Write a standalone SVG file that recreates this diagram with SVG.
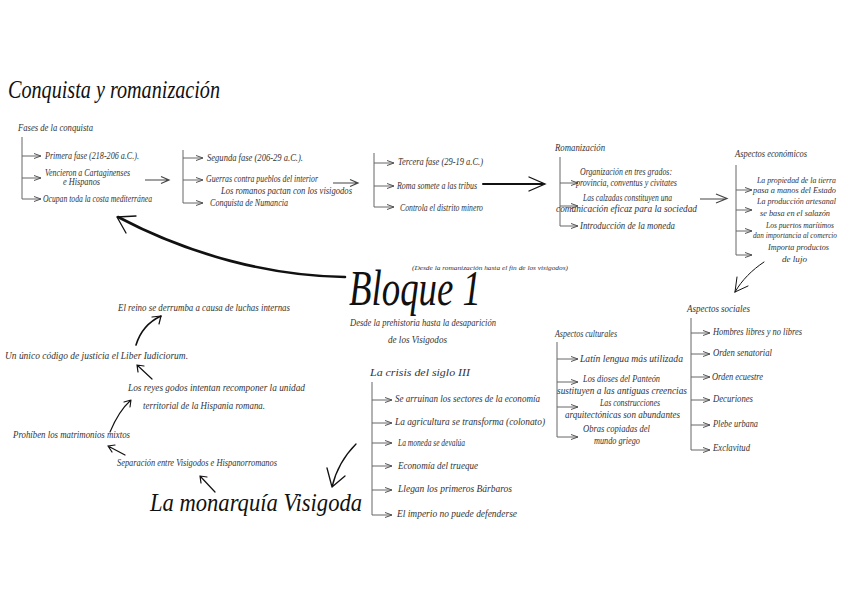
<svg xmlns="http://www.w3.org/2000/svg" width="848" height="599" viewBox="0 0 848 599">
<defs>
<marker id="ah" markerWidth="8" markerHeight="6" refX="7" refY="3" orient="auto" markerUnits="userSpaceOnUse">
<path d="M0,0.5 L7,3 L0,5.5" fill="none" stroke="#555" stroke-width="1"/>
</marker>
</defs>
<style>
text{font-family:"Liberation Serif","DejaVu Serif",serif;font-style:italic;fill:#333}
.s{font-size:9.5px}
.e{font-size:8.6px}
.xs{font-size:7px}
.m{font-size:11px}
.br{fill:none;stroke:#666;stroke-width:1}
.b{fill:none;stroke:#666;stroke-width:1;marker-end:url(#ah)}
.ar{fill:none;stroke:#444;stroke-width:1.2}
.k{fill:none;stroke:#111;stroke-linecap:round}
</style>
<rect width="848" height="599" fill="#fff"/>

<g id="connectors">
<path class="br" d="M22,137 V199"/>
<path class="b" d="M22,156 H41"/>
<path class="b" d="M22,178 H41"/>
<path class="b" d="M22,199 H41"/>
<path class="ar" d="M145,180 H168 M161,176.5 L169,180 L161,183.5"/>
<path class="br" d="M183,150 V203"/>
<path class="b" d="M183,158 H203"/>
<path class="b" d="M183,180 H203"/>
<path class="b" d="M183,203 H203"/>
<path class="ar" d="M333,183 H357 M350,179.5 L358,183 L350,186.5"/>
<path class="br" d="M374,153 V207"/>
<path class="b" d="M374,163 H394"/>
<path class="b" d="M374,186 H394"/>
<path class="b" d="M374,207 H394"/>
<path class="k" stroke-width="2" d="M483,184 H543"/>
<path class="k" stroke-width="1.3" d="M529,177 L545,184 L529,191"/>
<path class="br" d="M560,157 V226"/>
<path class="b" d="M560,183 H578"/>
<path class="b" d="M560,206 H578"/>
<path class="b" d="M560,226 H578"/>
<path class="ar" d="M700,199 H726 M716,194 L727,198.5 L716,203"/>
<path class="br" d="M736,165 V255"/>
<path class="b" d="M736,190 H752"/>
<path class="b" d="M736,210 H752"/>
<path class="b" d="M736,231 H752"/>
<path class="b" d="M736,255 H752"/>
<path class="k" stroke-width="1" d="M764,262 C752,270 742,280 735,292 M735,292 L737,277 M735,292 L748,286"/>
<path class="k" stroke-width="2.6" d="M345,277 C270,276 190,255 118,217"/>
<path class="k" stroke-width="1.3" d="M117,217 L136,216 M117,217 L126,233"/>
<path class="k" stroke-width="1.6" d="M136,345 C140,332 148,322 161,316"/>
<path class="k" stroke-width="1.2" d="M161,316 L152,317 M161,316 L159,324"/>
<path class="k" stroke-width="1.2" d="M152,379 L137,365 M137,365 L138,372 M137,365 L144,366"/>
<path class="k" stroke-width="1.1" d="M110,432 C115,420 122,408 131,400 M131,400 L124,402 M131,400 L130,407"/>
<path class="k" stroke-width="1.2" d="M125,455 L108,446 M108,446 L112,452 M108,446 L115,445"/>
<path class="k" stroke-width="1.2" d="M215,492 L200,476 M200,476 L201,483 M200,476 L207,477"/>
<path class="k" stroke-width="1.3" d="M356,444 C344,456 336,470 332,487 M332,487 L327,468 M332,487 L345,476"/>
<path class="br" d="M372,382 V515"/>
<path class="b" d="M372,400 H392"/>
<path class="b" d="M372,423 H392"/>
<path class="b" d="M372,443 H392"/>
<path class="b" d="M372,466 H392"/>
<path class="b" d="M372,490 H392"/>
<path class="b" d="M372,515 H392"/>
<path class="br" d="M557,342 V437"/>
<path class="b" d="M557,359 H578"/>
<path class="b" d="M557,382 H578"/>
<path class="b" d="M557,407 H578"/>
<path class="b" d="M557,437 H578"/>
<path class="br" d="M691,318 V450"/>
<path class="b" d="M691,333 H710"/>
<path class="b" d="M691,354 H710"/>
<path class="b" d="M691,377 H710"/>
<path class="b" d="M691,400 H710"/>
<path class="b" d="M691,425 H710"/>
<path class="b" d="M691,450 H710"/>
</g>

<g id="title"><text x="8" y="98" font-size="25" style="fill:#111" textLength="212" lengthAdjust="spacingAndGlyphs">Conquista y romanización</text></g>

<g id="fases">
<text class="s" x="18" y="131" textLength="75" lengthAdjust="spacingAndGlyphs">Fases de la conquista</text>
<text class="s" x="45" y="159" textLength="94" lengthAdjust="spacingAndGlyphs">Primera fase (218-206 a.C.).</text>
<text class="s" x="45" y="176" textLength="85" lengthAdjust="spacingAndGlyphs">Vencieron a Cartaginenses</text>
<text class="s" x="63" y="185" textLength="37" lengthAdjust="spacingAndGlyphs">e Hispanos</text>
<text class="s" x="43" y="202" textLength="109" lengthAdjust="spacingAndGlyphs">Ocupan toda la costa mediterránea</text>
</g>

<g id="segunda">
<text class="s" x="207" y="161" textLength="96" lengthAdjust="spacingAndGlyphs">Segunda fase (206-29 a.C.).</text>
<text class="s" x="206" y="182" textLength="112" lengthAdjust="spacingAndGlyphs">Guerras contra pueblos del interior</text>
<text class="m" x="221" y="194" textLength="131" lengthAdjust="spacingAndGlyphs">Los romanos pactan con los visigodos</text>
<text class="s" x="210" y="206" textLength="78" lengthAdjust="spacingAndGlyphs">Conquista de Numancia</text>
</g>

<g id="tercera">
<text class="s" x="398" y="165" textLength="85" lengthAdjust="spacingAndGlyphs">Tercera fase (29-19 a.C.)</text>
<text class="s" x="397" y="189" textLength="80" lengthAdjust="spacingAndGlyphs">Roma somete a las tribus</text>
<text class="s" x="400" y="211" textLength="83" lengthAdjust="spacingAndGlyphs">Controla el distrito minero</text>
</g>

<g id="romanizacion">
<text class="s" x="555" y="151" textLength="50" lengthAdjust="spacingAndGlyphs">Romanización</text>
<text class="s" x="580" y="175" textLength="92" lengthAdjust="spacingAndGlyphs">Organización en tres grados:</text>
<text class="s" x="576" y="186" textLength="101" lengthAdjust="spacingAndGlyphs">provincia, conventus y civitates</text>
<text class="s" x="583" y="201" textLength="89" lengthAdjust="spacingAndGlyphs">Las calzadas constituyen una</text>
<text class="s" x="556" y="212" textLength="141" lengthAdjust="spacingAndGlyphs">comunicación eficaz para la sociedad</text>
<text class="s" x="580" y="229" textLength="95" lengthAdjust="spacingAndGlyphs">Introducción de la moneda</text>
</g>

<g id="economicos">
<text class="s" x="735" y="157" textLength="72" lengthAdjust="spacingAndGlyphs">Aspectos económicos</text>
<text class="e" x="757" y="183" textLength="79" lengthAdjust="spacingAndGlyphs">La propiedad de la tierra</text>
<text class="e" x="753" y="193" textLength="83" lengthAdjust="spacingAndGlyphs">pasa a manos del Estado</text>
<text class="e" x="757" y="204" textLength="79" lengthAdjust="spacingAndGlyphs">La producción artesanal</text>
<text class="e" x="760" y="216" textLength="70" lengthAdjust="spacingAndGlyphs">se basa en el salazón</text>
<text class="e" x="766" y="228" textLength="68" lengthAdjust="spacingAndGlyphs">Los puertos marítimos</text>
<text x="753" y="238" font-size="7.8" textLength="84" lengthAdjust="spacingAndGlyphs">dan importancia al comercio</text>
<text class="e" x="768" y="250" textLength="61" lengthAdjust="spacingAndGlyphs">Importa productos</text>
<text class="e" x="782" y="262" textLength="25" lengthAdjust="spacingAndGlyphs">de lujo</text>
</g>

<g id="bloque">
<text x="349" y="305" font-size="50" style="fill:#111" textLength="132" lengthAdjust="spacingAndGlyphs">Bloque 1</text>
<text class="xs" x="412" y="270" textLength="156" lengthAdjust="spacingAndGlyphs">(Desde la romanización hasta el fin de los visigodos)</text>
<text class="s" x="350" y="326" textLength="146" lengthAdjust="spacingAndGlyphs">Desde la prehistoria hasta la desaparición</text>
<text class="s" x="388" y="343" textLength="59" lengthAdjust="spacingAndGlyphs">de los Visigodos</text>
</g>

<g id="visigoda">
<text class="s" x="118" y="311" textLength="172" lengthAdjust="spacingAndGlyphs">El reino se derrumba a causa de luchas internas</text>
<text class="s" x="5" y="359" textLength="183" lengthAdjust="spacingAndGlyphs">Un único código de justicia el Liber Iudiciorum.</text>
<text class="s" x="128" y="391" textLength="177" lengthAdjust="spacingAndGlyphs">Los reyes godos intentan recomponer la unidad</text>
<text class="s" x="143" y="409" textLength="122" lengthAdjust="spacingAndGlyphs">territorial de la Hispania romana.</text>
<text class="s" x="13" y="438" textLength="117" lengthAdjust="spacingAndGlyphs">Prohíben los matrimonios mixtos</text>
<text class="s" x="117" y="466" textLength="160" lengthAdjust="spacingAndGlyphs">Separación entre Visigodos e Hispanorromanos</text>
<text x="150" y="511" font-size="26" style="fill:#111" textLength="212" lengthAdjust="spacingAndGlyphs">La monarquía Visigoda</text>
</g>

<g id="crisis">
<text class="m" x="370" y="376" textLength="100" lengthAdjust="spacingAndGlyphs">La crisis del siglo III</text>
<text class="s" x="395" y="402" textLength="145" lengthAdjust="spacingAndGlyphs">Se arruinan los sectores de la economía</text>
<text class="s" x="395" y="425" textLength="150" lengthAdjust="spacingAndGlyphs">La agricultura se transforma (colonato)</text>
<text class="s" x="398" y="446" textLength="67" lengthAdjust="spacingAndGlyphs">La moneda se devalúa</text>
<text class="s" x="398" y="469" textLength="80" lengthAdjust="spacingAndGlyphs">Economía del trueque</text>
<text class="s" x="398" y="492" textLength="114" lengthAdjust="spacingAndGlyphs">Llegan los primeros Bárbaros</text>
<text class="s" x="397" y="517" textLength="120" lengthAdjust="spacingAndGlyphs">El imperio no puede defenderse</text>
</g>

<g id="culturales">
<text class="m" x="555" y="337" textLength="62" lengthAdjust="spacingAndGlyphs">Aspectos culturales</text>
<text class="s" x="580" y="362" textLength="103" lengthAdjust="spacingAndGlyphs">Latín lengua más utilizada</text>
<text class="s" x="583" y="382" textLength="77" lengthAdjust="spacingAndGlyphs">Los dioses del Panteón</text>
<text class="s" x="557" y="394" textLength="130" lengthAdjust="spacingAndGlyphs">sustituyen a las antiguas creencias</text>
<text class="s" x="600" y="406" textLength="60" lengthAdjust="spacingAndGlyphs">Las construcciones</text>
<text class="s" x="565" y="418" textLength="115" lengthAdjust="spacingAndGlyphs">arquitectónicas son abundantes</text>
<text class="s" x="583" y="432" textLength="67" lengthAdjust="spacingAndGlyphs">Obras copiadas del</text>
<text class="s" x="594" y="444" textLength="46" lengthAdjust="spacingAndGlyphs">mundo griego</text>
</g>

<g id="sociales">
<text class="s" x="687" y="312" textLength="63" lengthAdjust="spacingAndGlyphs">Aspectos sociales</text>
<text class="s" x="713" y="335" textLength="89" lengthAdjust="spacingAndGlyphs">Hombres libres y no libres</text>
<text class="s" x="713" y="356" textLength="59" lengthAdjust="spacingAndGlyphs">Orden senatorial</text>
<text class="s" x="712" y="380" textLength="51" lengthAdjust="spacingAndGlyphs">Orden ecuestre</text>
<text class="s" x="713" y="402" textLength="40" lengthAdjust="spacingAndGlyphs">Decuriones</text>
<text class="s" x="713" y="427" textLength="45" lengthAdjust="spacingAndGlyphs">Plebe urbana</text>
<text class="s" x="713" y="451" textLength="37" lengthAdjust="spacingAndGlyphs">Exclavitud</text>
</g>
</svg>
